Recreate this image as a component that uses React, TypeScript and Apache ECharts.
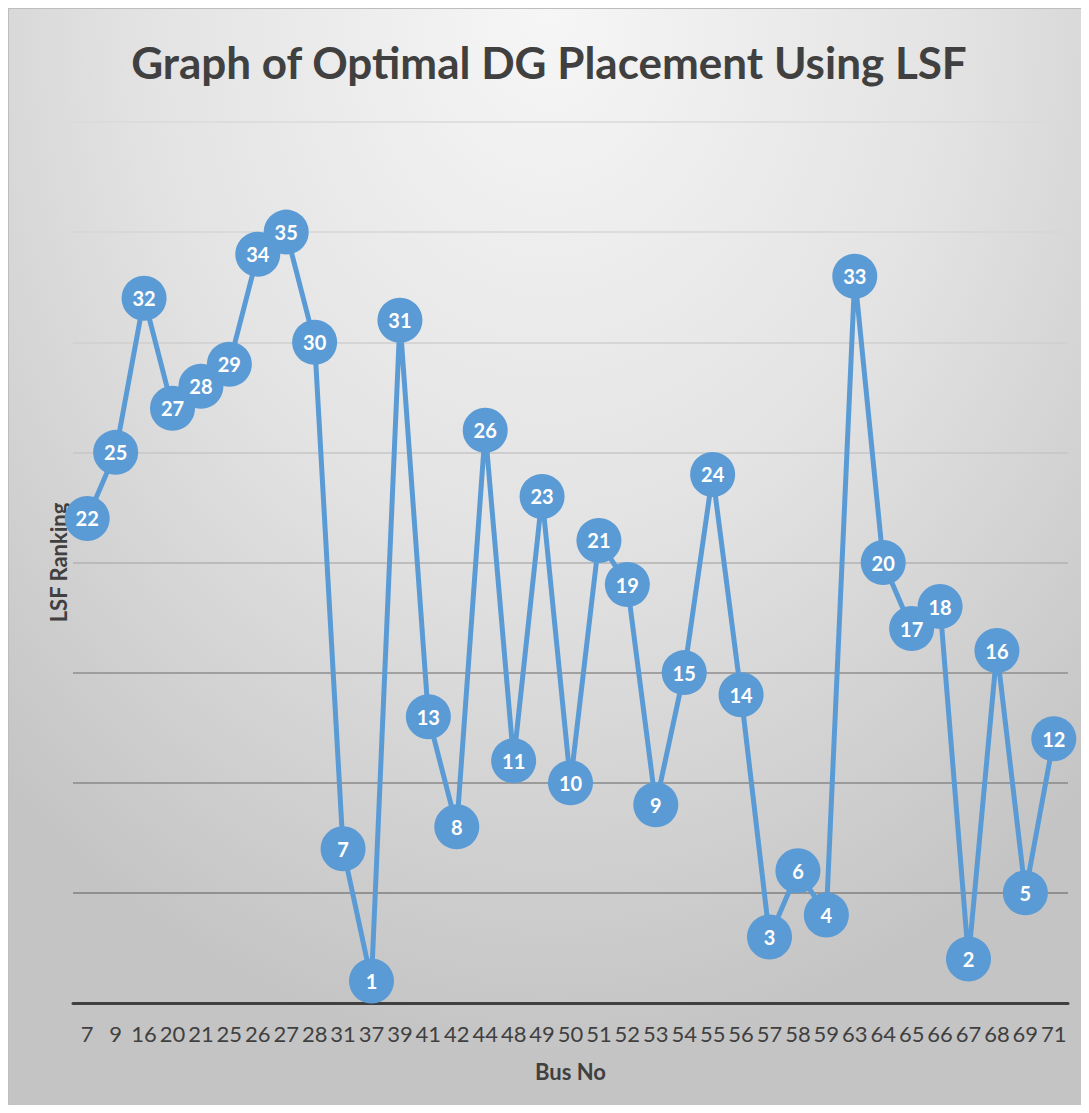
import React, { useEffect, useRef } from "react";
import * as echarts from "echarts";

const busNo = ["7", "9", "16", "20", "21", "25", "26", "27", "28", "31", "37", "39", "41", "42", "44", "48", "49", "50", "51", "52", "53", "54", "55", "56", "57", "58", "59", "63", "64", "65", "66", "67", "68", "69", "71"];
const lsfRanking = [22, 25, 32, 27, 28, 29, 34, 35, 30, 7, 1, 31, 13, 8, 26, 11, 23, 10, 21, 19, 9, 15, 24, 14, 3, 6, 4, 33, 20, 17, 18, 2, 16, 5, 12];
const gridColors = ["#808080", "#7f7f7f", "#888888", "#8e8e8e", "#b2b2b2", "#c6c6c6", "#cfcfcf", "#d6d6d6", "#dadada"];

const FONT = "Lato, 'Open Sans', sans-serif";

export default function App() {
  const ref = useRef<HTMLDivElement>(null);
  useEffect(() => {
    if (!ref.current) return;
    const chart = echarts.init(ref.current, null, { renderer: "svg" });
    chart.setOption({
      animation: false,
      title: {
        text: "Graph of Optimal DG Placement Using LSF",
        left: "center",
        top: 26,
        textStyle: { fontFamily: FONT, fontSize: 44, fontWeight: "bold", color: "#404040" },
      },
      grid: { left: 64, right: 21, top: 113, bottom: 110, containLabel: false },
      xAxis: {
        type: "category",
        data: busNo,
        boundaryGap: true,
        name: "Bus No",
        nameLocation: "middle",
        nameGap: 57,
        nameTextStyle: { fontFamily: FONT, fontSize: 22, fontWeight: "bold", color: "#404040" },
        axisLine: { show: true, lineStyle: { color: "#404040", width: 3 } },
        axisTick: { show: false },
        axisLabel: { fontFamily: FONT, fontSize: 22, color: "#404040", margin: 19, interval: 0 },
        splitLine: { show: false },
      },
      yAxis: {
        type: "value",
        min: 0,
        max: 40,
        interval: 5,
        name: "LSF Ranking",
        nameLocation: "middle",
        nameGap: 4,
        nameRotate: 90,
        nameTextStyle: { fontFamily: FONT, fontSize: 22, fontWeight: "bold", color: "#404040" },
        axisLine: { show: false },
        axisTick: { show: false },
        axisLabel: { show: false },
        splitLine: { show: true, lineStyle: { color: gridColors, width: 1.5 } },
      },
      series: [
        {
          type: "line",
          data: lsfRanking,
          symbol: "circle",
          symbolSize: 45,
          lineStyle: { color: "#5B9BD5", width: 5 },
          itemStyle: { color: "#5B9BD5" },
          label: {
            show: true,
            position: "inside",
            color: "#ffffff",
            fontFamily: FONT,
            fontWeight: "bold",
            fontSize: 20,
          },
          z: 3,
        },
      ],
    });
    return () => chart.dispose();
  }, []);
  return (
    <div
      style={{
        width: 1080,
        height: 1104,
        marginBottom: -8,
        borderTop: "1px solid #bdbdbd",
        borderLeft: "1px solid #bdbdbd",
        background:
          "radial-gradient(ellipse 75% 95% at 50% 0%, #f6f6f6 0%, #e3e3e3 50%, #c4c4c4 100%)",
      }}
    >
      <div ref={ref} style={{ width: 1080, height: 1104 }} />
    </div>
  );
}
